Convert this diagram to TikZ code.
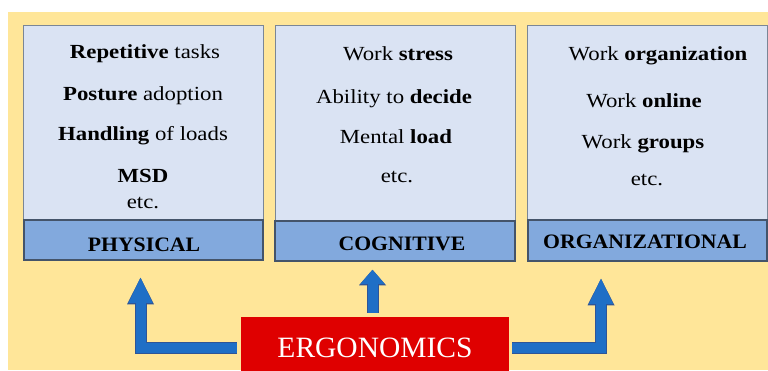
\documentclass[tikz,border=0pt]{standalone}
\usepackage{fontspec}
\setmainfont{Liberation Serif}[FakeStretch=1.14]
\newfontfamily\titlefont{Liberation Serif}[FakeStretch=1.06]
\newfontfamily\ergofont{Liberation Serif}
\usetikzlibrary{arrows.meta}

\definecolor{ergoyellow}{HTML}{FFE699}
\definecolor{boxfill}{HTML}{DAE3F3}
\definecolor{boxline}{HTML}{7A8696}
\definecolor{titlefill}{HTML}{82A9DD}
\definecolor{titleline}{HTML}{44546A}
\definecolor{arrowblue}{HTML}{1F6FC6}
\definecolor{arrowline}{HTML}{2E5597}
\definecolor{ergored}{HTML}{DF0000}

\tikzset{
  areabox/.style={draw=boxline,fill=boxfill,line width=1pt,inner sep=0pt,minimum width=240pt,minimum height=195pt},
  areatitle/.style={draw=titleline,fill=titlefill,line width=1.5pt,inner sep=0pt,minimum width=239pt,minimum height=40pt},
  itemtext/.style={anchor=base,inner sep=0pt,font=\fontsize{20}{23}\selectfont},
  titletext/.style={anchor=base,inner sep=0pt,font=\titlefont\bfseries\fontsize{20.5}{23}\selectfont},
  sidearrow/.style={arrowblue,line width=10pt,-{Triangle[length=25pt,width=24pt,line width=0pt]},
    preaction={draw=arrowline,line width=12pt,-{Triangle[length=26.5pt,width=27pt,line width=0pt]}}},
  midarrow/.style={arrowblue,line width=10pt,-{Triangle[length=14pt,width=24pt,line width=0pt]},
    preaction={draw=arrowline,line width=12pt,-{Triangle[length=15.5pt,width=27pt,line width=0pt]}}}
}

\begin{document}
\begin{tikzpicture}[x=1pt,y=-1pt,line join=miter]
\useasboundingbox (0,0) rectangle (768,370);
\fill[ergoyellow] (8,12) rectangle (768,370);

% physical
\node[areabox] (phys) at (143,122.5) {};
\node[areatitle] (physlabel) at (143.5,240) {};
\node[itemtext] (p1) at (145,58) {\textbf{Repetitive} tasks};
\node[itemtext] (p2) at (143,100) {\textbf{Posture} adoption};
\node[itemtext] (p3) at (143,140) {\textbf{Handling} of loads};
\node[itemtext] (p4) at (143,182) {\textbf{MSD}};
\node[itemtext] (p5) at (143,208) {etc.};
\node[titletext] (pt) at (144,251) {PHYSICAL};

% cognitive
\node[areabox,minimum height=196pt] (cog) at (395,123) {};
\node[areatitle,minimum width=240pt] (coglabel) at (395,241) {};
\node[itemtext] (c1) at (398,60) {Work \textbf{stress}};
\node[itemtext] (c2) at (394,103) {Ability to \textbf{decide}};
\node[itemtext] (c3) at (396,143) {Mental \textbf{load}};
\node[itemtext] (c4) at (397,182) {etc.};
\node[titletext] (ct) at (402,250) {COGNITIVE};

% organizational
\node[areabox] (org) at (647,122.5) {};
\node[areatitle,minimum height=41pt] (orglabel) at (647.5,240.5) {};
\node[itemtext] (o1) at (658,60) {Work \textbf{organization}};
\node[itemtext] (o2) at (644,107) {Work \textbf{online}};
\node[itemtext] (o3) at (643,148) {Work \textbf{groups}};
\node[itemtext] (o4) at (647,185) {etc.};
\node[titletext] (ot) at (645,248) {ORGANIZATIONAL};

% ergonomics
\node[fill=ergored,inner sep=0pt,minimum width=268pt,minimum height=61pt,
  text=white,font=\ergofont\fontsize{29.5}{34}\selectfont] (ergo) at (375,347.5) {ERGONOMICS};

\draw[sidearrow,shorten <=4pt,shorten >=17pt] (ergo.west) -| ([xshift=-3pt]physlabel.south);
\draw[midarrow,shorten <=4pt,shorten >=8pt] ([xshift=-2.5pt]ergo.north) -- ([xshift=-2.5pt]ergo.north |- coglabel.south);
\draw[sidearrow,shorten <=3pt,shorten >=17pt] (ergo.east) -| ([xshift=-46.5pt]orglabel.south);
\end{tikzpicture}
\end{document}
